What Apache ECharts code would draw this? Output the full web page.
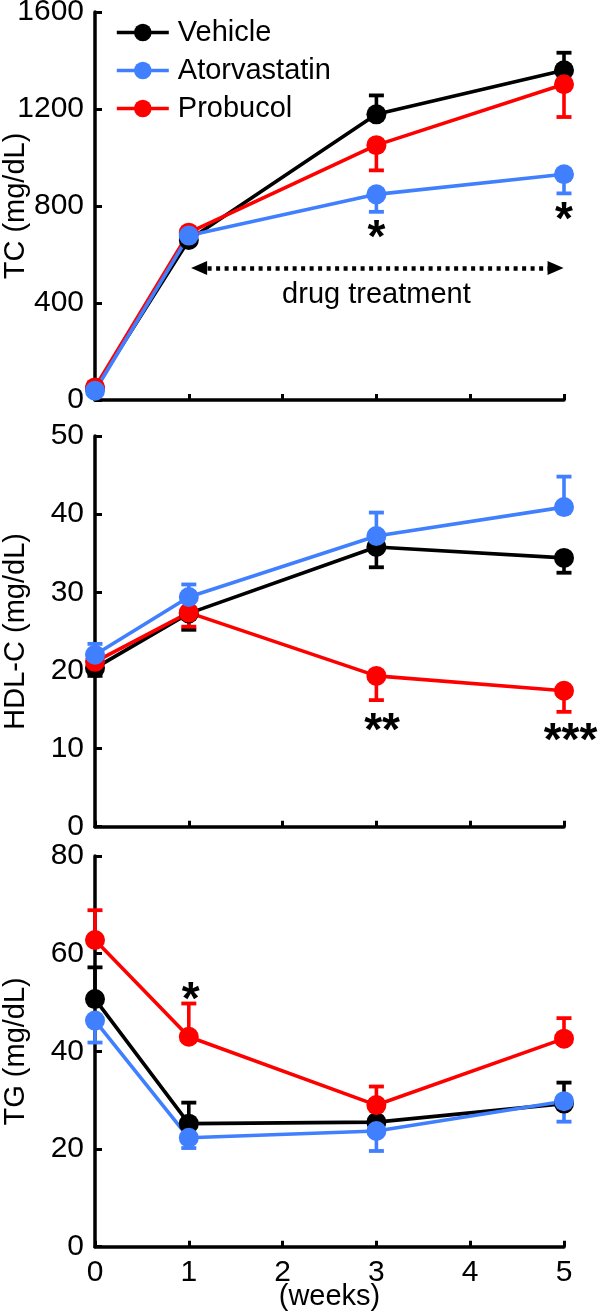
<!DOCTYPE html>
<html><head><meta charset="utf-8">
<script src="https://cdn.jsdelivr.net/npm/echarts@6/dist/echarts.min.js"></script>
<style>html,body{margin:0;padding:0;background:#fff}#c{width:600px;height:1316px}</style>
</head><body><div id="c"></div>
<script>
// ---- data ----
const weeks = [0, 1, 3, 5];
const seriesNames = ['Vehicle', 'Atorvastatin', 'Probucol'];
// TC (mg/dL)
const tcVehicle = [48, 660, 1178, 1360];
const tcVehicleErr = [null, null, 1256, 1432];
const tcAtorva = [38, 678, 848, 931];
const tcAtorvaErr = [null, 640, 776, 852];
const tcProbucol = [52, 690, 1051, 1302];
const tcProbucolErr = [null, null, 947, 1167];
// HDL-C (mg/dL)
const hdlVehicle = [20.3, 27.3, 35.8, 34.4];
const hdlVehicleErr = [19.3, 25.2, 33.2, 32.5];
const hdlAtorva = [22.0, 29.4, 37.2, 40.9];
const hdlAtorvaErr = [23.4, 31.0, 40.2, 44.8];
const hdlProbucol = [21.1, 27.4, 19.3, 17.4];
const hdlProbucolErr = [null, 25.6, 16.2, 14.7];
// TG (mg/dL)
const tgVehicle = [50.7, 25.2, 25.5, 29.3];
const tgVehicleErr = [57.2, 29.5, null, 33.6];
const tgAtorva = [46.3, 22.3, 23.7, 29.8];
const tgAtorvaErr = [41.8, 20.2, 19.6, 25.6];
const tgProbucol = [62.8, 43.0, 29.0, 42.6];
const tgProbucolErr = [68.9, 49.8, 32.8, 46.8];
// annotations [x, y, text]
const tcAnnot = [[3, 709, '*'], [5, 784, '*']];
const tcTreatText = [[3, 433, 'drug treatment']];
const tcArrow = [[1.11, 544], [4.91, 544]];
const hdlAnnot = [[3.06, 13.5, '**'], [5.07, 12.2, '***']];
const tgAnnot = [[1.02, 52.5, '*']];
// axes
const yNames = ['TC (mg/dL)', 'HDL-C (mg/dL)', 'TG (mg/dL)'];
const yMax = [1600, 50, 80];
const yInterval = [400, 10, 20];
const xName = '(weeks)';

// ---- styling ----
const FONT = 'Liberation Sans, Arial, Helvetica, sans-serif';
const colors = { Vehicle: '#000000', Atorvastatin: '#4080ff', Probucol: '#ff0000' };
const grids = [
  { left: 95, right: 36, top: 12, height: 388, containLabel: false, outerBoundsMode: 'none' },
  { left: 95, right: 36, top: 436, height: 390.7, containLabel: false, outerBoundsMode: 'none' },
  { left: 95, right: 36, top: 856, height: 390.7, containLabel: false, outerBoundsMode: 'none' }
];

function pairs(xs, ys) { return xs.map((x, i) => [x, ys[i]]); }
function errData(xs, ys, ends) {
  const out = [];
  xs.forEach((x, i) => { if (ends[i] != null) out.push([x, ys[i], ends[i]]); });
  return out;
}

const series = [];
function addGroup(gi, name, vals, ends) {
  const c = colors[name];
  series.push({
    name: name + ' err', type: 'custom', xAxisIndex: gi, yAxisIndex: gi,
    data: errData(weeks, vals, ends), silent: true, z: 2, clip: false,
    renderItem: function (params, api) {
      const p0 = api.coord([api.value(0), api.value(1)]);
      const p1 = api.coord([api.value(0), api.value(2)]);
      return {
        type: 'group', children: [
          { type: 'line', shape: { x1: p0[0], y1: p0[1], x2: p1[0], y2: p1[1] }, style: { stroke: c, lineWidth: 3.6 } },
          { type: 'line', shape: { x1: p1[0] - 7.5, y1: p1[1], x2: p1[0] + 7.5, y2: p1[1] }, style: { stroke: c, lineWidth: 3.8 } }
        ]
      };
    }
  });
  series.push({
    name: name, type: 'line', xAxisIndex: gi, yAxisIndex: gi, z: 2, clip: false,
    data: pairs(weeks, vals), symbol: 'circle', symbolSize: 20,
    lineStyle: { color: c, width: 3.6 }, itemStyle: { color: c }, color: c
  });
}
function txtLabel(txt, size, offY, weight) {
  return { show: true, formatter: txt, position: 'inside', color: '#000', fontFamily: FONT,
           fontSize: size, fontWeight: weight || 'normal', offset: [0, offY], textBorderWidth: 0, opacity: 1 };
}
function addAnnot(gi, arr) {
  series.push({
    name: 'annot' + gi, type: 'scatter', xAxisIndex: gi, yAxisIndex: gi, z: 5,
    symbolSize: 0, silent: true, clip: false, itemStyle: { opacity: 1 },
    data: arr.map(a => ({ value: [a[0], a[1]], label: txtLabel(a[2], 46, 11, 'bold') })),
    label: txtLabel('', 46, 11, 'bold')
  });
}

const panels = [
  [tcVehicle, tcVehicleErr, tcAtorva, tcAtorvaErr, tcProbucol, tcProbucolErr],
  [hdlVehicle, hdlVehicleErr, hdlAtorva, hdlAtorvaErr, hdlProbucol, hdlProbucolErr],
  [tgVehicle, tgVehicleErr, tgAtorva, tgAtorvaErr, tgProbucol, tgProbucolErr]
];
panels.forEach((p, gi) => {
  addGroup(gi, 'Vehicle', p[0], p[1]);
  addGroup(gi, 'Probucol', p[4], p[5]);
  addGroup(gi, 'Atorvastatin', p[2], p[3]);
});
addAnnot(0, tcAnnot);
addAnnot(1, hdlAnnot);
addAnnot(2, tgAnnot);
// drug treatment text + arrow
series.push({
  name: 'treat', type: 'scatter', xAxisIndex: 0, yAxisIndex: 0, symbolSize: 0, silent: true, z: 5,
  itemStyle: { opacity: 1 },
  data: tcTreatText.map(a => ({ value: [a[0], a[1]], label: txtLabel(a[2], 29, 0) })),
  label: txtLabel('', 29, 0),
  markLine: {
    silent: true, symbol: ['triangle', 'triangle'], symbolSize: [14, 16],
    lineStyle: { color: '#000', width: 4.5, type: [4, 4.5], opacity: 1 },
    itemStyle: { color: '#000', opacity: 1 },
    label: { show: false },
    emphasis: { disabled: true },
    data: [[{ coord: tcArrow[0] }, { coord: tcArrow[1] }]]
  }
});

const xAxes = grids.map((g, gi) => ({
  type: 'value', gridIndex: gi, min: 0, max: 5, interval: 1,
  axisLine: { show: true, onZero: false, lineStyle: { color: '#000', width: 3.5 } },
  axisTick: { show: true, inside: true, length: 6, lineStyle: { color: '#000', width: 3 } },
  axisLabel: { show: gi === 2, color: '#000', fontFamily: FONT, fontSize: 30, margin: 11 },
  splitLine: { show: false },
  name: gi === 2 ? xName : '', nameLocation: 'middle', nameGap: 36, nameMoveOverlap: false,
  nameTextStyle: { color: '#000', fontFamily: FONT, fontSize: 29 }
}));
const yAxes = grids.map((g, gi) => ({
  type: 'value', gridIndex: gi, min: 0, max: yMax[gi], interval: yInterval[gi],
  axisLine: { show: true, lineStyle: { color: '#000', width: 3.5 } },
  axisTick: { show: true, inside: true, length: 7, lineStyle: { color: '#000', width: 3 } },
  axisLabel: { color: '#000', fontFamily: FONT, fontSize: 30, margin: 11, formatter: v => String(v) },
  splitLine: { show: false },
  name: yNames[gi], nameLocation: 'middle', nameGap: 65, nameMoveOverlap: false,
  nameTextStyle: { color: '#000', fontFamily: FONT, fontSize: 29 }
}));

const chart = echarts.init(document.getElementById('c'), null, { renderer: 'canvas' });
chart.setOption({
  animation: false,
  backgroundColor: '#fff',
  textStyle: { fontFamily: FONT },
  legend: {
    data: seriesNames, orient: 'vertical', left: 115, top: 18, padding: 0,
    itemWidth: 52, itemHeight: 22, itemGap: 9,
    lineStyle: { width: 3.6 },
    textStyle: { color: '#000', fontFamily: FONT, fontSize: 29, padding: [0, 0, 0, 4] }
  },
  grid: grids,
  xAxis: xAxes,
  yAxis: yAxes,
  series: series
});
</script>
</body></html>
